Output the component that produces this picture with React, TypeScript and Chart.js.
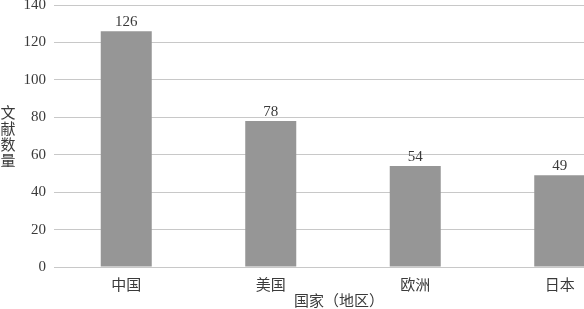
import React, { useEffect, useRef } from "react";
import { Chart, registerables } from "chart.js";

Chart.register(...registerables);

const categories = ["中国", "美国", "欧洲", "日本"];
const values = [126, 78, 54, 49];
const yTitleChars = ["文", "献", "数", "量"];
const xTitle = "国家（地区）";

const FONT = "'Liberation Serif', 'Noto Sans CJK SC', serif";
const TEXT = "#3a3a3a";
const OFFSET = 12;

const labelsPlugin = {
  id: "customText",
  afterDatasetsDraw(chart: any) {
    const ctx = chart.ctx;
    ctx.save();
    ctx.fillStyle = TEXT;
    ctx.font = `15px ${FONT}`;
    ctx.textAlign = "center";
    ctx.textBaseline = "alphabetic";
    const meta = chart.getDatasetMeta(0);
    meta.data.forEach((bar: any, i: number) => {
      ctx.fillText(String(values[i]), bar.x, bar.y - 5);
    });
    ctx.textBaseline = "middle";
    const cy = (chart.chartArea.top + chart.chartArea.bottom) / 2 + 2;
    yTitleChars.forEach((ch, i) => {
      ctx.fillText(ch, 8, cy + (i - 1.5) * 16);
    });
    ctx.fillText(xTitle, 339, 302 + OFFSET);
    ctx.restore();
  },
};

export default function App() {
  const ref = useRef<HTMLCanvasElement | null>(null);
  useEffect(() => {
    document.body.style.margin = "0";
    document.body.style.overflow = "hidden";
    const chart = new Chart(ref.current as HTMLCanvasElement, {
      type: "bar",
      data: {
        labels: categories,
        datasets: [
          {
            data: values,
            backgroundColor: "#969696",
            borderWidth: 0,
            barPercentage: 1,
            categoryPercentage: 0.353,
          },
        ],
      },
      options: {
        responsive: false,
        animation: false,
        devicePixelRatio: 1,
        layout: { padding: 0 },
        plugins: {
          legend: { display: false },
          tooltip: { enabled: false },
        },
        scales: {
          x: {
            grid: { display: false },
            border: { display: false },
            ticks: {
              color: TEXT,
              font: { family: FONT, size: 15 },
              padding: 2,
              maxRotation: 0,
            },
            afterFit(scale: any) {
              scale.height = 42;
            },
          },
          y: {
            min: 0,
            max: 140,
            border: { display: false },
            grid: { color: "#c8c8c8", drawTicks: false, lineWidth: 1 },
            ticks: {
              stepSize: 20,
              color: TEXT,
              font: { family: FONT, size: 15 },
              padding: 8,
            },
            afterFit(scale: any) {
              scale.width = 54;
            },
          },
        },
      },
      plugins: [labelsPlugin],
    } as any);
    return () => chart.destroy();
  }, []);
  return (
    <canvas
      ref={ref}
      width={632}
      height={309 + OFFSET}
      style={{ position: "absolute", left: 0, top: -OFFSET, width: 632, height: 309 + OFFSET }}
    />
  );
}
